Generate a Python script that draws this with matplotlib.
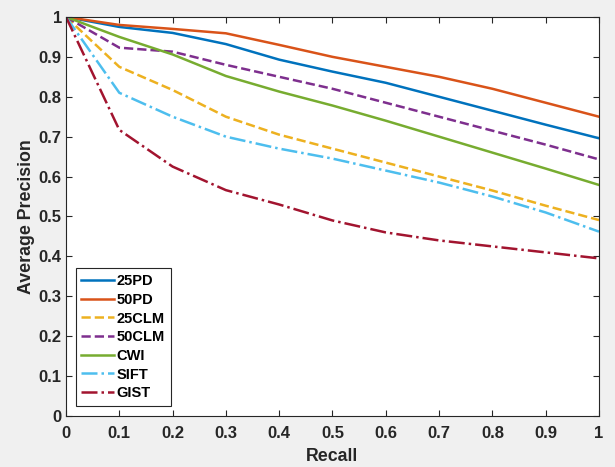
import matplotlib.pyplot as plt

# recall levels and average precision per method
recall = [0, 0.1, 0.2, 0.3, 0.4, 0.5, 0.6, 0.7, 0.8, 0.9, 1.0]
pd25 = [1, 0.975, 0.96, 0.932, 0.893, 0.863, 0.835, 0.80, 0.765, 0.73, 0.696]
pd50 = [1, 0.98, 0.97, 0.959, 0.93, 0.90, 0.875, 0.85, 0.82, 0.785, 0.75]
clm25 = [1, 0.875, 0.817, 0.75, 0.705, 0.67, 0.635, 0.60, 0.565, 0.527, 0.491]
clm50 = [1, 0.923, 0.913, 0.88, 0.85, 0.82, 0.785, 0.75, 0.715, 0.68, 0.643]
cwi = [1, 0.95, 0.906, 0.852, 0.813, 0.778, 0.74, 0.70, 0.66, 0.62, 0.579]
sift = [1, 0.81, 0.75, 0.70, 0.67, 0.645, 0.615, 0.585, 0.55, 0.51, 0.462]
gist = [1, 0.717, 0.625, 0.566, 0.53, 0.49, 0.46, 0.44, 0.425, 0.41, 0.395]

series = [
    ("25PD", pd25, "#0072BD", "-"),
    ("50PD", pd50, "#D95319", "-"),
    ("25CLM", clm25, "#EDB120", "--"),
    ("50CLM", clm50, "#7E2F8E", "--"),
    ("CWI", cwi, "#77AC30", "-"),
    ("SIFT", sift, "#4DBEEE", "-."),
    ("GIST", gist, "#A2142F", "-."),
]

plt.rcParams["font.family"] = ["Liberation Sans", "DejaVu Sans"]
plt.rcParams["font.weight"] = "bold"

fig = plt.figure(figsize=(6.15, 4.67), dpi=100, facecolor="#F0F0F0")
ax = fig.add_axes([0.1073, 0.1092, 0.8667, 0.8545])

for name, vals, color, ls in series:
    ax.plot(recall, vals, color=color, linestyle=ls, linewidth=1.8, label=name)

ticks = [i / 10 for i in range(11)]
labels = ["0"] + [f"{t:g}" for t in ticks[1:-1]] + ["1"]
ax.set_xlim(0, 1)
ax.set_ylim(0, 1)
ax.set_xticks(ticks)
ax.set_yticks(ticks)
ax.set_xticklabels(labels)
ax.set_yticklabels(labels)
ax.tick_params(direction="in", top=True, right=True, length=4, width=0.8,
               labelsize=12, colors="#262626")
ax.tick_params(axis="x", pad=7)
ax.tick_params(axis="y", pad=3)
for s in ax.spines.values():
    s.set_color("#262626")
    s.set_linewidth(0.8)

ax.set_xlabel("Recall", fontsize=12.8, fontweight="bold", color="#262626", labelpad=5)
ax.set_ylabel("Average Precision", fontsize=12.8, fontweight="bold", color="#262626", labelpad=3)

leg = ax.legend(loc="lower left", bbox_to_anchor=(0.018, 0.025), borderaxespad=0,
                fontsize=10.5, handlelength=2.2, handletextpad=0.2, borderpad=0.4,
                labelspacing=0.32, fancybox=False, framealpha=1)
leg.get_frame().set_edgecolor("#262626")
leg.get_frame().set_linewidth(0.8)

fig.savefig("out.png", dpi=100, facecolor=fig.get_facecolor())
